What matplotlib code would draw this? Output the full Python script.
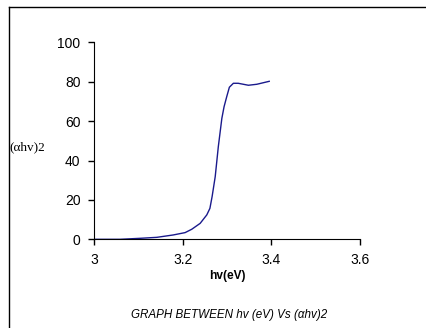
import matplotlib
matplotlib.use('Agg')
import matplotlib.pyplot as plt
from matplotlib.lines import Line2D

# hv (eV) and (alpha hv)^2
hv = [3.0, 3.058, 3.103, 3.141, 3.178, 3.205, 3.22, 3.239, 3.254, 3.261, 3.266,
      3.273, 3.28, 3.288, 3.293, 3.299, 3.305, 3.314, 3.325, 3.348, 3.367, 3.395]
ahv2 = [0.0, 0.0, 0.5, 1.0, 2.2, 3.4, 5.1, 8.1, 12.4, 15.7, 21.7,
        31.8, 47.0, 61.4, 67.3, 72.4, 77.2, 79.2, 79.2, 78.2, 78.7, 80.2]

xticks = [3, 3.2, 3.4, 3.6]
yticks = [0, 20, 40, 60, 80, 100]

plt.rcParams['font.family'] = ['Liberation Sans', 'DejaVu Sans']

fig = plt.figure(figsize=(4.27, 3.28), dpi=100)
ax = fig.add_axes([0.221, 0.2704, 0.622, 0.6006])

ax.plot(hv, ahv2, color='#1a1a8c', linewidth=1.0)

ax.set_xlim(3, 3.6)
ax.set_ylim(0, 100)
ax.set_xticks(xticks)
ax.set_xticklabels(['3', '3.2', '3.4', '3.6'])
ax.set_yticks(yticks)
ax.tick_params(direction='out', length=4, width=1, labelsize=10, pad=6)
ax.spines['top'].set_visible(False)
ax.spines['right'].set_visible(False)
ax.margins(0)

ax.set_xlabel('hv(eV)', fontsize=8.6, fontweight='bold', labelpad=2)
fig.text(0.022, 0.552, '(αhv)2', fontsize=9.5, family=['Liberation Serif', 'DejaVu Serif'],
         ha='left', va='center')
fig.text(0.537, 0.04, 'GRAPH BETWEEN hv (eV) Vs (αhv)2', fontsize=8.4, style='italic',
         ha='center', va='center')

# outer frame: only the top and left edges are inside the image
fig.lines.append(Line2D([0.021, 1.0], [0.979, 0.979], transform=fig.transFigure,
                        color='black', linewidth=1.0))
fig.lines.append(Line2D([0.021, 0.021], [0.0, 0.979], transform=fig.transFigure,
                        color='black', linewidth=1.0))

fig.savefig('out.png', dpi=100)
